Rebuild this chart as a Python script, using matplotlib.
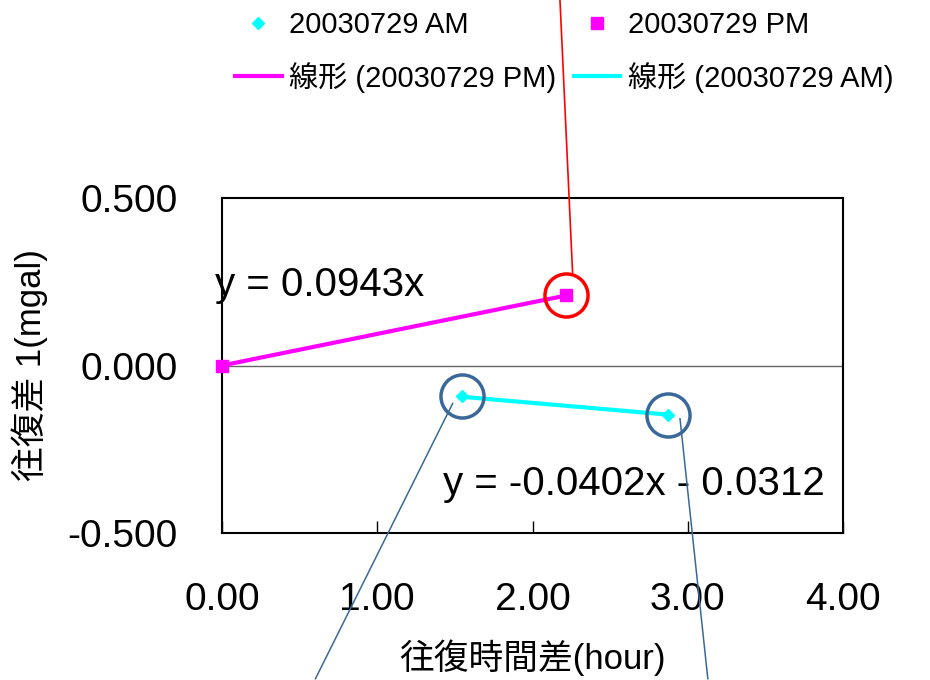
import matplotlib
matplotlib.use('Agg')
import matplotlib.pyplot as plt

plt.rcParams['font.family'] = ['Liberation Sans', 'Noto Sans CJK JP']
plt.rcParams['axes.unicode_minus'] = False

# data
am_x = [1.544, 2.875]
am_y = [-0.092, -0.148]
pm_x = [0.0, 2.214]
pm_y = [0.0, 0.209]

# trendline coefficients (slope, intercept)
am_fit = (-0.0402, -0.0312)
pm_fit = (0.0943, 0.0)

am_label = '20030729 AM'
pm_label = '20030729 PM'
am_fit_label = '線形 (20030729 AM)'
pm_fit_label = '線形 (20030729 PM)'
am_eq = 'y = -0.0402x - 0.0312'
pm_eq = 'y = 0.0943x'

x_ticks = [0, 1, 2, 3, 4]
x_ticklabels = ['0.00', '1.00', '2.00', '3.00', '4.00']
y_ticks = [-0.5, 0.0, 0.5]
y_ticklabels = ['-0.500', '0.000', '0.500']

# leader lines from the circled points (start, end) in data units
red_leader = ([2.258, 2.177], [0.277, 1.089])
blue_leaders = [([1.486, 0.602], [-0.113, -0.935]),
                ([2.950, 3.129], [-0.159, -0.935])]

fig = plt.figure(figsize=(9.3, 6.8), dpi=100)
ax = fig.add_axes([0.2387, 0.2162, 0.6678, 0.4926])

ax.axhline(0, color='#666666', lw=1, zorder=1)

# trendlines over each series' x range
pm_tx = [min(pm_x), max(pm_x)]
am_tx = [min(am_x), max(am_x)]
l_pm, = ax.plot(pm_tx, [pm_fit[0] * v + pm_fit[1] for v in pm_tx],
                color='#ff00ff', lw=3, zorder=2, label=pm_fit_label)
l_am, = ax.plot(am_tx, [am_fit[0] * v + am_fit[1] for v in am_tx],
                color='#00ffff', lw=3, zorder=2, label=am_fit_label)

m_am, = ax.plot(am_x, am_y, 'D', color='#00ffff', ms=6.5, ls='none',
                zorder=3, clip_on=False, label=am_label)
m_pm, = ax.plot(pm_x, pm_y, 's', color='#ff00ff', ms=8, ls='none',
                zorder=3, clip_on=False, label=pm_label)

# circles around points
ax.plot(pm_x[1:], pm_y[1:], 'o', mfc='none', mec='#ff0000', mew=2.5,
        ms=31, zorder=4, clip_on=False)
ax.plot(am_x, am_y, 'o', mfc='none', mec='#3a6898', mew=2.5,
        ms=31, zorder=4, clip_on=False)

ax.plot(*red_leader, color='#ff0000', lw=1.2, clip_on=False, zorder=5)
for lx, ly in blue_leaders:
    ax.plot(lx, ly, color='#3a6898', lw=1.1, clip_on=False, zorder=5)

ax.text(-0.045, 0.241, pm_eq, fontsize=29, ha='left', va='center', zorder=3)
ax.text(1.423, -0.354, am_eq, fontsize=29, ha='left', va='center', zorder=3)

ax.set_xlim(0, 4)
ax.set_ylim(-0.5, 0.5)
ax.set_xticks(x_ticks)
ax.set_xticklabels(x_ticklabels, fontsize=28)
ax.set_yticks(y_ticks)
ax.set_yticklabels(y_ticklabels, fontsize=28)
ax.tick_params(axis='x', direction='in', length=9, width=1, pad=35)
ax.tick_params(axis='y', length=0, pad=32)
for s in ax.spines.values():
    s.set_linewidth(1.5)

ax.set_xlabel('往復時間差(hour)', fontsize=25, labelpad=16)
ax.set_ylabel('往復差 1(mgal)', fontsize=25, labelpad=14)

fig.legend(handles=[m_am, l_pm, m_pm, l_am], ncol=2, frameon=False,
           fontsize=21, loc='upper left',
           bbox_to_anchor=(235 / 930, 1 - 11 / 680),
           borderpad=0, borderaxespad=0, handlelength=1.6,
           handletextpad=0.25, columnspacing=0.6, labelspacing=0.78)

fig.savefig('out.png', dpi=100)
